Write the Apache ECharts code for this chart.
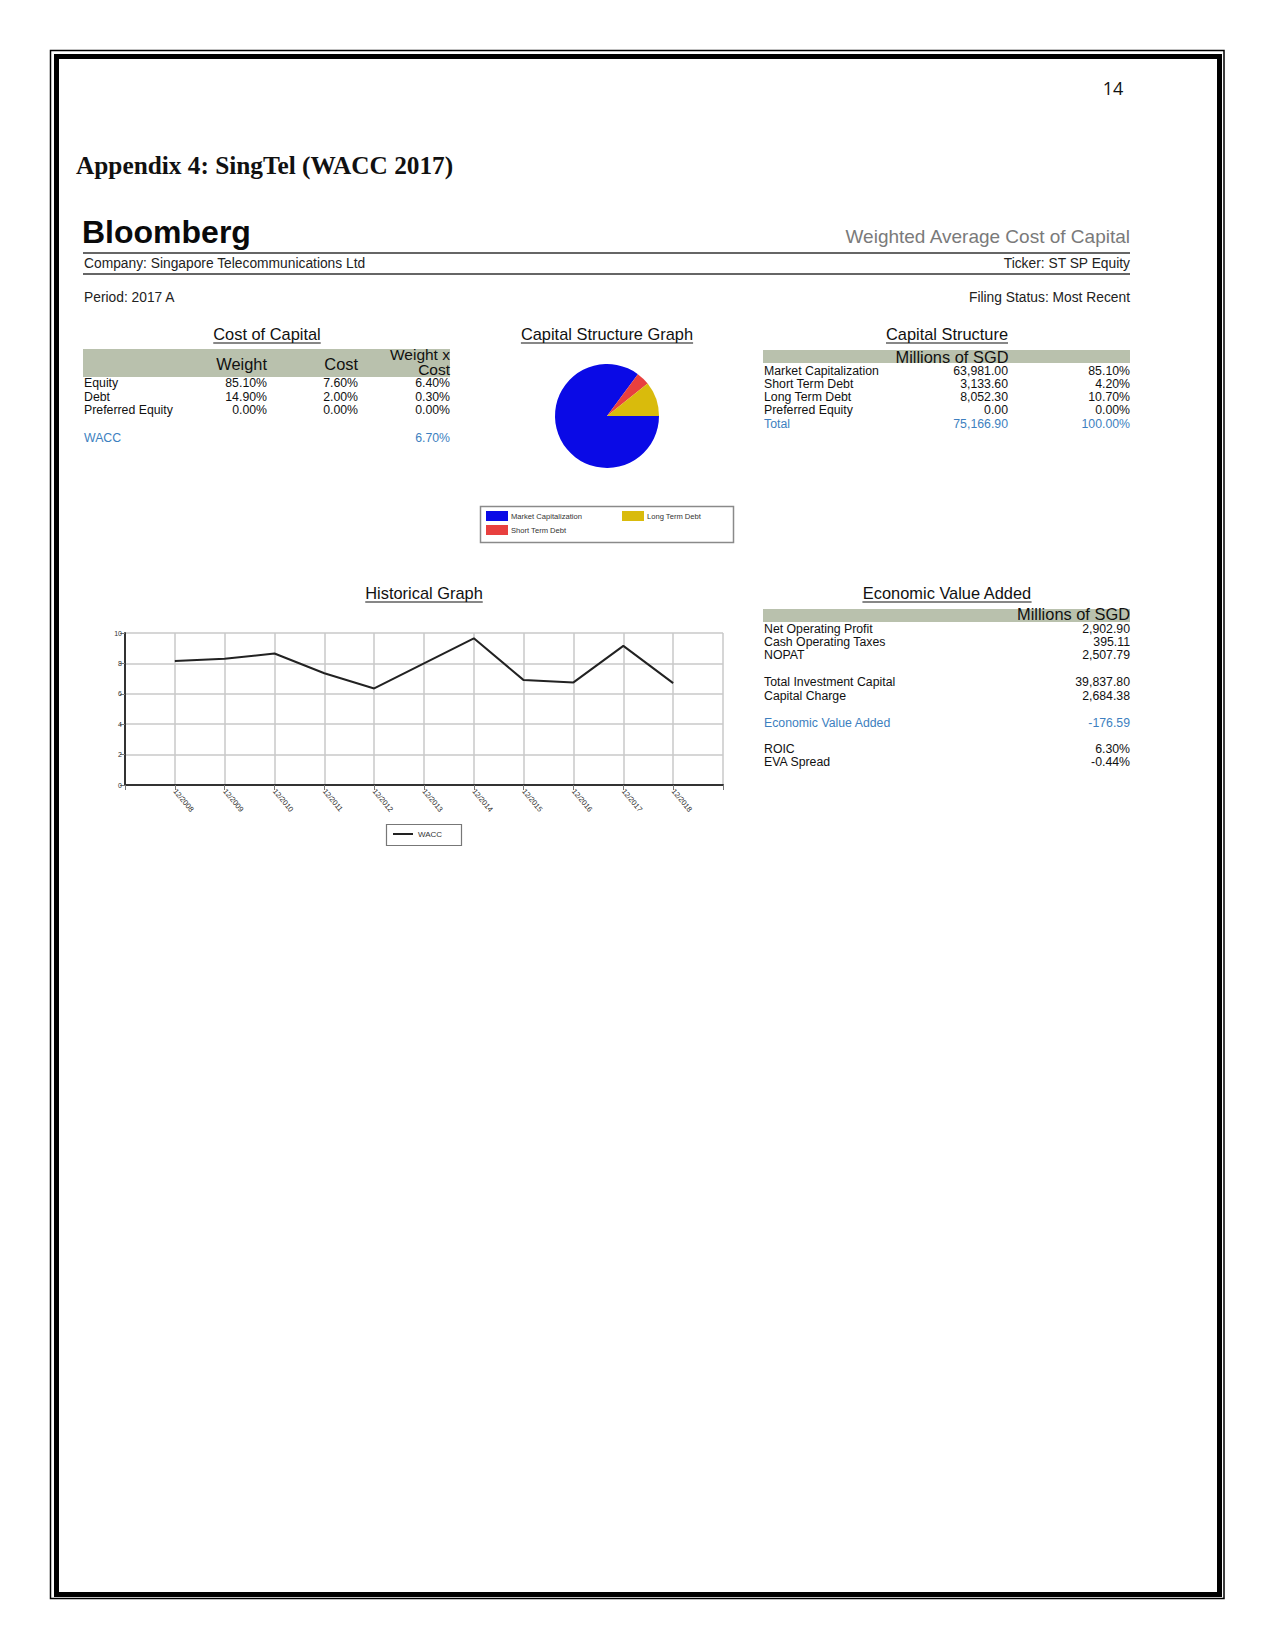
<!DOCTYPE html>
<html><head><meta charset="utf-8">
<script src="https://cdn.jsdelivr.net/npm/echarts@6/dist/echarts.min.js"></script>
<style>html,body{margin:0;padding:0;background:#fff}#c{width:1275px;height:1650px}</style>
</head><body><div id="c"></div>
<script>
// ---------- DATA ----------
const pageNumber = '14';
const heading = 'Appendix 4: SingTel (WACC 2017)';
const reportTitle = 'Weighted Average Cost of Capital';
const companyName = 'Singapore Telecommunications Ltd';
const tickerText = 'ST SP Equity';
const periodText = '2017 A';
const filingText = 'Most Recent';

const costHeaders = ['Weight', 'Cost', 'Weight x', 'Cost'];
const costRowLabels = ['Equity', 'Debt', 'Preferred Equity'];
const costWeight = ['85.10%', '14.90%', '0.00%'];
const costCost = ['7.60%', '2.00%', '0.00%'];
const costWxC = ['6.40%', '0.30%', '0.00%'];
const waccValue = '6.70%';

const capItems = ['Market Capitalization', 'Short Term Debt', 'Long Term Debt', 'Preferred Equity'];
const capValues = [63981.00, 3133.60, 8052.30, 0.00];
const capPct = [85.10, 4.20, 10.70, 0.00];
const capTotal = 75166.90;
const capTotalPct = 100.00;

const histCategories = ['12/2008', '12/2009', '12/2010', '12/2011', '12/2012', '12/2013',
  '12/2014', '12/2015', '12/2016', '12/2017', '12/2018'];
const histWacc = [8.15, 8.3, 8.65, 7.35, 6.35, 8.0, 9.65, 6.9, 6.75, 9.15, 6.7];
const histAxisMin = 0, histAxisMax = 10, histAxisStep = 2;

const evaLabels = ['Net Operating Profit', 'Cash Operating Taxes', 'NOPAT',
  'Total Investment Capital', 'Capital Charge', 'Economic Value Added', 'ROIC', 'EVA Spread'];
const evaValues = ['2,902.90', '395.11', '2,507.79', '39,837.80', '2,684.38', '-176.59', '6.30%', '-0.44%'];

// ---------- LAYOUT / STYLE ----------
const SANS = '"Liberation Sans", Arial, sans-serif';
const BLUE_TXT = '#3d7fc0';
const BAND = '#b9c1ad';
const pieColors = ['#0a0ae6', '#e8403f', '#d9bb0c'];
const FS_ROW = 12.3, FS_HEAD = 13.8, FS_TITLE = 16.4;

const mc = document.createElement('canvas').getContext('2d');
function textW(t, font) { mc.font = font; return mc.measureText(t).width; }

const G = [];
function T(text, x, y, size, opt) {
  opt = opt || {};
  G.push({type: 'text', x: x, y: y, silent: true, style: {
    text: text, font: (opt.weight || 'normal') + ' ' + size + 'px ' + (opt.family || SANS),
    fill: opt.fill || '#111', align: opt.align || 'left', verticalAlign: opt.va || 'middle'
  }});
}
function L(x1, y1, x2, y2, color, w) {
  G.push({type: 'line', silent: true, shape: {x1: x1, y1: y1, x2: x2, y2: y2}, style: {stroke: color, lineWidth: w}});
}
function R(x, y, w, h, style) {
  G.push({type: 'rect', silent: true, shape: {x: x, y: y, width: w, height: h}, style: style});
}
function titleU(text, cx, cy, size) {
  T(text, cx, cy, size, {align: 'center', fill: '#111'});
  const w = textW(text, size + 'px ' + SANS);
  L(cx - w / 2, cy + size * 0.55, cx + w / 2, cy + size * 0.55, '#111', 1.2);
}

// page border
R(50.5, 50.5, 1173.5, 1548, {fill: 'none', stroke: '#000', lineWidth: 1.5});
R(56.5, 56.5, 1163, 1538, {fill: 'none', stroke: '#000', lineWidth: 5});

T(pageNumber, 1113, 88, 18, {align: 'center', family: '"Open Sans", sans-serif'});
T(heading, 76, 165, 25.3, {weight: 'bold', family: '"Liberation Serif", "Times New Roman", serif'});

// Bloomberg header
T('Bloomberg', 82, 232, 32, {weight: 'bold', fill: '#0a0a0a'});
T(reportTitle, 1130, 236, 19, {align: 'right', fill: '#7a7a7a'});
L(83, 253, 1130, 253, '#666', 2);
T('Company: ' + companyName, 84, 263, FS_HEAD, {fill: '#222'});
T('Ticker: ' + tickerText, 1130, 263, FS_HEAD, {align: 'right', fill: '#222'});
L(83, 274, 1130, 274, '#333', 1.5);
T('Period: ' + periodText, 84, 297, FS_HEAD, {fill: '#222'});
T('Filing Status: ' + filingText, 1130, 297, FS_HEAD, {align: 'right', fill: '#222'});

// Cost of Capital table
titleU('Cost of Capital', 267, 334, FS_TITLE);
R(83, 349, 367, 28, {fill: BAND});
const costCols = [267, 358, 450];
T(costHeaders[0], costCols[0], 364, FS_TITLE, {align: 'right'});
T(costHeaders[1], costCols[1], 364, FS_TITLE, {align: 'right'});
T(costHeaders[2], costCols[2], 354, 15.5, {align: 'right'});
T(costHeaders[3], costCols[2], 369, 15.5, {align: 'right'});
const costRowY = [383, 397, 410];
costRowLabels.forEach(function (lab, i) {
  T(lab, 84, costRowY[i], FS_ROW);
  T(costWeight[i], costCols[0], costRowY[i], FS_ROW, {align: 'right'});
  T(costCost[i], costCols[1], costRowY[i], FS_ROW, {align: 'right'});
  T(costWxC[i], costCols[2], costRowY[i], FS_ROW, {align: 'right'});
});
T('WACC', 84, 438, FS_ROW, {fill: BLUE_TXT});
T(waccValue, costCols[2], 438, FS_ROW, {align: 'right', fill: BLUE_TXT});

// Capital Structure Graph
titleU('Capital Structure Graph', 607, 334, FS_TITLE);
R(480.5, 506.5, 253, 36, {fill: '#fff', stroke: '#8a8a8a', lineWidth: 1.5});

// Capital Structure table
titleU('Capital Structure', 947, 334, FS_TITLE);
R(763, 350, 367, 13, {fill: BAND});
T('Millions of SGD', 952, 357, FS_TITLE, {align: 'center'});
const fmt = function (v) { return v.toLocaleString('en-US', {minimumFractionDigits: 2, maximumFractionDigits: 2}); };
const capRowY = [371, 384, 397, 410];
capItems.forEach(function (lab, i) {
  T(lab, 764, capRowY[i], FS_ROW);
  T(fmt(capValues[i]), 1008, capRowY[i], FS_ROW, {align: 'right'});
  T(fmt(capPct[i]) + '%', 1130, capRowY[i], FS_ROW, {align: 'right'});
});
T('Total', 764, 424, FS_ROW, {fill: BLUE_TXT});
T(fmt(capTotal), 1008, 424, FS_ROW, {align: 'right', fill: BLUE_TXT});
T(fmt(capTotalPct) + '%', 1130, 424, FS_ROW, {align: 'right', fill: BLUE_TXT});

// Historical graph
titleU('Historical Graph', 424, 593, FS_TITLE);
R(386.5, 824.5, 75, 21, {fill: '#fff', stroke: '#777', lineWidth: 1.2});

// EVA table
titleU('Economic Value Added', 947, 593, FS_TITLE);
R(763, 609, 367, 13, {fill: BAND});
T('Millions of SGD', 1130, 614, FS_TITLE, {align: 'right'});
const evaRowY = [629, 642, 655, 682, 696, 723, 749, 762];
evaLabels.forEach(function (lab, i) {
  const c = i === 5 ? BLUE_TXT : '#111';
  T(lab, 764, evaRowY[i], FS_ROW, {fill: c});
  T(evaValues[i], 1130, evaRowY[i], FS_ROW, {align: 'right', fill: c});
});

// ---------- CHART ----------
const pieData = [];
capItems.forEach(function (n, i) { if (capValues[i] > 0) pieData.push({name: n, value: capValues[i]}); });

const chart = echarts.init(document.getElementById('c'), null, {renderer: 'svg'});
chart.setOption({
  animation: false,
  color: pieColors,
  textStyle: {fontFamily: SANS},
  graphic: {elements: G},
  legend: [
    {data: [capItems[0], capItems[1]], orient: 'vertical', left: 486, top: 511, padding: 0,
      itemWidth: 22, itemHeight: 10, itemGap: 4, icon: 'rect', selectedMode: false,
      textStyle: {fontSize: 7.6, color: '#333', padding: [0, 0, 0, -2]}},
    {data: [capItems[2]], orient: 'vertical', left: 622, top: 511, padding: 0,
      itemWidth: 22, itemHeight: 10, icon: 'rect', selectedMode: false,
      textStyle: {fontSize: 7.6, color: '#333', padding: [0, 0, 0, -2]}},
    {data: ['WACC'], left: 393, top: 830, padding: 0, itemWidth: 20, itemHeight: 2,
      icon: 'rect', selectedMode: false, textStyle: {fontSize: 8, color: '#333'}}
  ],
  grid: {left: 125, top: 633, width: 598, height: 152},
  xAxis: {
    type: 'category', boundaryGap: false, data: [''].concat(histCategories, ['']),
    axisLine: {lineStyle: {color: '#333', width: 2}},
    axisTick: {show: true, length: 5, lineStyle: {color: '#777'}},
    axisLabel: {interval: 0, rotate: -50, fontSize: 7.5, color: '#333', margin: 5},
    splitLine: {show: true, lineStyle: {color: '#c9c9c9', width: 1.5}}
  },
  yAxis: {
    type: 'value', min: histAxisMin, max: histAxisMax, interval: histAxisStep,
    axisLine: {show: true, lineStyle: {color: '#333', width: 2}},
    axisTick: {show: true, length: 5, lineStyle: {color: '#777'}},
    axisLabel: {fontSize: 7, color: '#333', margin: 3},
    splitLine: {lineStyle: {color: '#c9c9c9', width: 1.5}}
  },
  series: [
    {type: 'pie', name: 'Capital Structure', center: [607, 416], radius: 52,
      startAngle: 0, clockwise: true, label: {show: false}, labelLine: {show: false},
      itemStyle: {borderWidth: 0}, emphasis: {scale: false}, data: pieData},
    {type: 'line', name: 'WACC', data: [null].concat(histWacc, [null]), showSymbol: false,
      color: '#222', lineStyle: {color: '#222', width: 2}}
  ]
});
</script>
</body></html>
